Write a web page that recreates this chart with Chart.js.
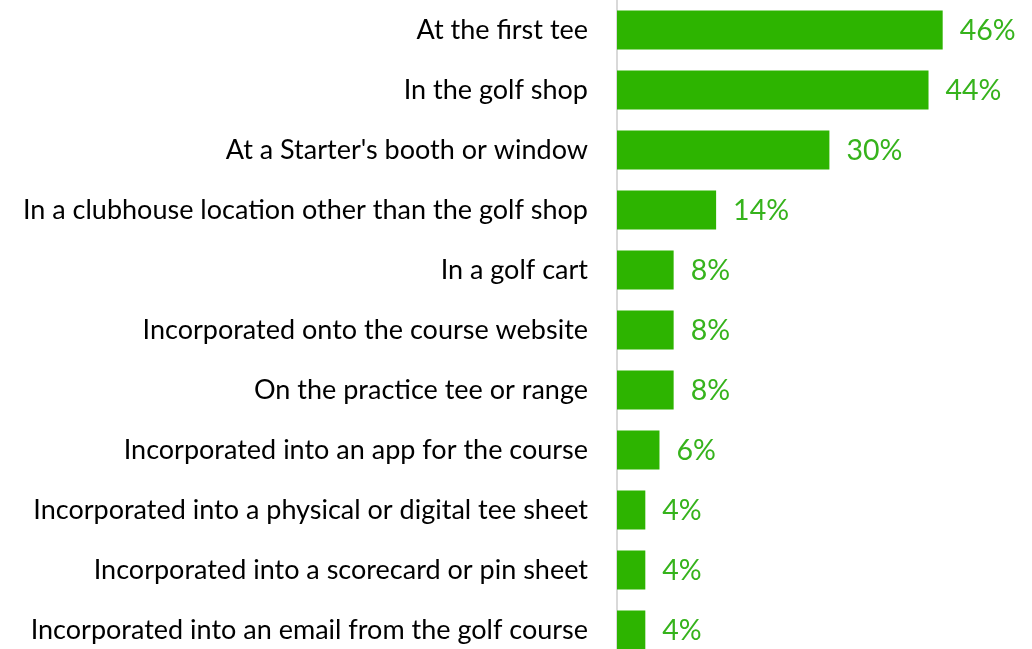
<!DOCTYPE html>
<html>
<head>
<meta charset="utf-8">
<script src="https://cdn.jsdelivr.net/npm/chart.js@4"></script>
<style>
    html, body { margin: 0; padding: 0; background: #fff; overflow: hidden; }
    #wrap { position: relative; width: 1032px; height: 660px; }
</style>
</head>
<body>
<div id="wrap"><canvas id="locationChart"></canvas></div>
<script>
// Where the information was seen (share of respondents, %)
const categories = [
    "At the first tee",
    "In the golf shop",
    "At a Starter's booth or window",
    "In a clubhouse location other than the golf shop",
    "In a golf cart",
    "Incorporated onto the course website",
    "On the practice tee or range",
    "Incorporated into an app for the course",
    "Incorporated into a physical or digital tee sheet",
    "Incorporated into a scorecard or pin sheet",
    "Incorporated into an email from the golf course"
];
const shares = [46, 44, 30, 14, 8, 8, 8, 6, 4, 4, 4];

const barGreen = '#2db400';
const labelGreen = '#36b31c';

// Draw the "46%" style labels just past the end of each bar
const valueLabels = {
    id: 'valueLabels',
    afterDatasetsDraw(chart) {
        const ctx = chart.ctx;
        const meta = chart.getDatasetMeta(0);
        ctx.save();
        ctx.font = '28.5px Lato';
        ctx.fillStyle = labelGreen;
        ctx.textAlign = 'left';
        ctx.textBaseline = 'middle';
        meta.data.forEach((bar, i) => {
            ctx.fillText(shares[i] + '%', bar.x + 17, bar.y + 1);
        });
        ctx.restore();
    }
};

const ctx = document.getElementById('locationChart').getContext('2d');
const locationChart = new Chart(ctx, {
    type: 'bar',
    data: {
        labels: categories,
        datasets: [{
            data: shares,
            backgroundColor: barGreen,
            barPercentage: 0.65,
            categoryPercentage: 1.0
        }]
    },
    options: {
        indexAxis: 'y',
        responsive: true,
        maintainAspectRatio: false,
        animation: false,
        layout: {
            padding: { top: 0, bottom: 0, left: 0, right: 61 }
        },
        scales: {
            x: {
                min: 0,
                max: 50,
                display: false
            },
            y: {
                grid: { display: false, drawTicks: false },
                border: { color: '#d9d9d9', width: 2 },
                ticks: {
                    color: '#000',
                    padding: 29,
                    font: { family: 'Lato', size: 27 }
                },
                afterFit(scale) {
                    scale.width = 617;  // keep the axis line at a fixed x
                    scale.paddingTop = 0;  // rows fill the full height
                    scale.paddingBottom = 0;
                }
            }
        },
        plugins: {
            legend: { display: false },
            tooltip: { enabled: false }
        }
    },
    plugins: [valueLabels]
});
</script>
</body>
</html>
